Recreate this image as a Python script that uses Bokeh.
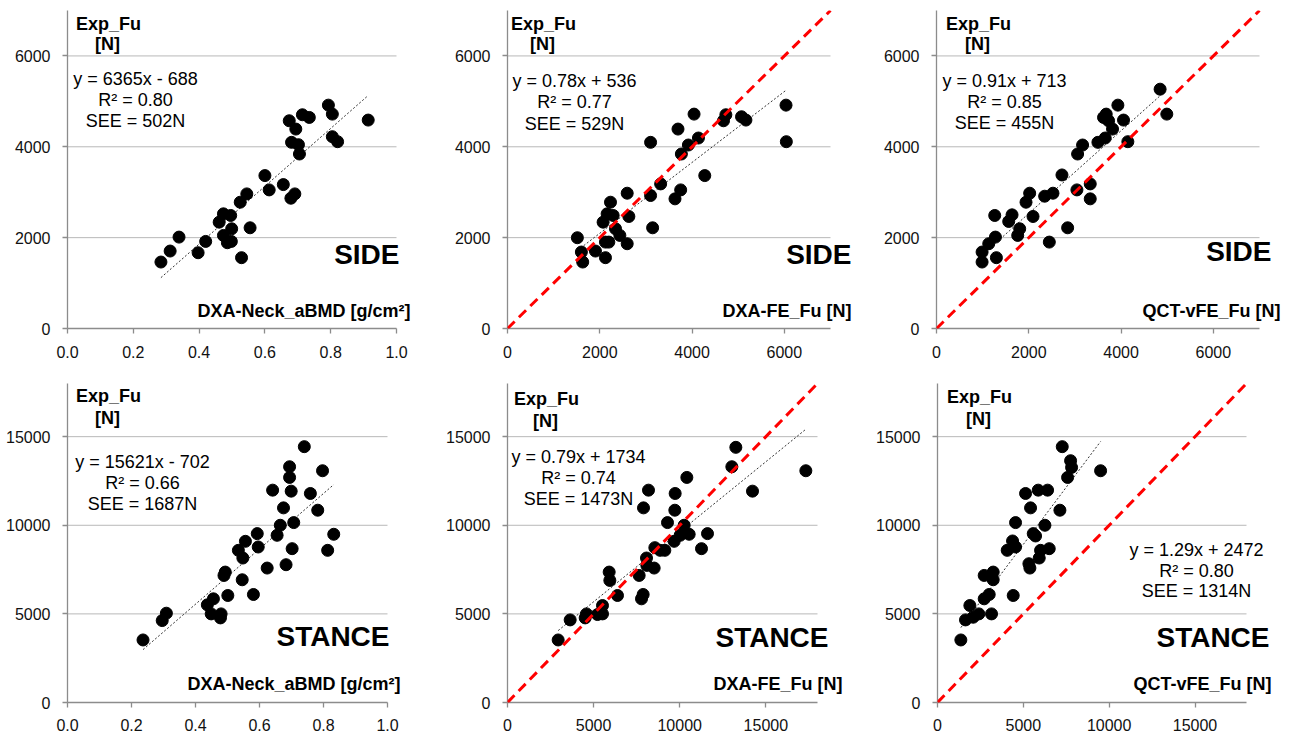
from bokeh.plotting import figure
from bokeh.models import Range1d, FixedTicker, NumeralTickFormatter, Label, Slope
from bokeh.layouts import column, row
from bokeh.embed import file_html
from bokeh.resources import INLINE

# ---------------- DATA ----------------
# SIDE configuration
side_bmd_x = [0.284, 0.312, 0.339, 0.397, 0.420, 0.461, 0.474, 0.496, 0.474, 0.486, 0.498,
              0.499, 0.525, 0.545, 0.555, 0.529, 0.600, 0.613, 0.656, 0.674, 0.681, 0.694,
              0.702, 0.705, 0.679, 0.691, 0.714, 0.735, 0.793, 0.805, 0.805, 0.821, 0.914]
side_bmd_y = [1463, 1705, 2012, 1668, 1917, 2341, 2524, 2488, 2049, 1888, 1917,
              2195, 2780, 2963, 2217, 1559, 3366, 3051, 3168, 4573, 4098, 4390,
              4046, 3841, 2868, 2963, 4705, 4646, 4917, 4719, 4222, 4112, 4588]

side_dxafe_x = [1514, 1601, 1630, 1906, 2072, 2123, 2123, 2196, 2159, 2232, 2290, 2341,
                2435, 2594, 2630, 2594, 3101, 3101, 3145, 3319, 3630, 3695, 3753, 3768,
                3920, 4043, 4138, 4275, 4681, 4732, 5072, 5167, 6036, 6043]
side_dxafe_y = [1998, 1683, 1463, 1705, 2341, 1902, 1559, 1902, 2524, 2780, 2488, 2195,
                2049, 2978, 2466, 1866, 4098, 2927, 2217, 3183, 2854, 4390, 3051, 3841,
                4039, 4719, 4193, 3366, 4573, 4705, 4661, 4588, 4917, 4112]

side_qct_x = [988, 988, 1132, 1262, 1277, 1298, 1565, 1637, 1760, 1803, 1940, 2019,
              2092, 2344, 2524, 2445, 2719, 2842, 3043, 3058, 3166, 3332, 3332, 3498,
              3656, 3620, 3678, 3729, 3815, 3931, 4053, 4147, 4846, 4991]
side_qct_y = [1463, 1683, 1866, 2488, 2012, 1559, 2356, 2502, 2049, 2195, 2780, 2978,
              2466, 2912, 2978, 1902, 3380, 2217, 3051, 3841, 4039, 3183, 2854, 4098,
              4193, 4646, 4719, 4573, 4390, 4917, 4588, 4112, 5268, 4719]

# STANCE configuration
stance_bmd_x = [0.236, 0.296, 0.309, 0.437, 0.449, 0.456, 0.478, 0.480, 0.489, 0.493,
                0.501, 0.534, 0.548, 0.556, 0.546, 0.581, 0.593, 0.596, 0.624, 0.641,
                0.655, 0.665, 0.675, 0.683, 0.694, 0.694, 0.699, 0.707, 0.702, 0.740,
                0.759, 0.782, 0.797, 0.813, 0.832]
stance_bmd_y = [3529, 4623, 5038, 5510, 5000, 5850, 4774, 5000, 7170, 7359,
                6038, 8586, 8152, 9095, 6925, 6095, 9529, 8775, 7586, 11982,
                9435, 10001, 10982, 7775, 13303, 12700, 11926, 10152, 8680, 14436,
                11794, 10850, 13077, 8586, 9492]

stance_dxafe_x = [2942, 3639, 4510, 4587, 5226, 5516, 5516, 5903, 5942, 6387, 7645, 7781,
                  7877, 7897, 8071, 8187, 8090, 8516, 8555, 8865, 9135, 9290, 9677, 9716,
                  9735, 10026, 10258, 10548, 10413, 11265, 11613, 13026, 13258, 14226, 17323]
stance_dxafe_y = [3529, 4661, 4774, 5000, 4963, 5472, 5000, 7359, 6888, 6038, 7170, 5850,
                  6095, 10982, 8152, 11982, 7737, 7586, 8737, 8586, 8586, 10152, 9095, 10850,
                  11794, 9435, 10001, 9492, 12700, 8680, 9529, 13303, 14398, 11926, 13077]

stance_qct_x = [1360, 1632, 1885, 2079, 2409, 2720, 2720, 3012, 3148, 3245, 3245, 4061,
                4372, 4411, 4547, 4547, 5130, 5421, 5324, 5382, 5577, 5712, 5868, 5926,
                6004, 6257, 6412, 6509, 7131, 7267, 7578, 7753, 7811, 9501]
stance_qct_y = [3529, 4661, 5472, 4812, 5000, 7170, 5850, 6095, 5000, 7359, 6925, 8586,
                9114, 6038, 8775, 10152, 11794, 10982, 7831, 7586, 9529, 9397, 11982, 8152,
                8586, 10001, 11982, 8680, 10850, 14436, 12700, 13643, 13265, 13077]

# regression coefficients (slope, intercept) as printed
fit_coefs = [(6365, -688), (0.78, 536), (0.91, 713),
             (15621, -702), (0.79, 1734), (1.29, 2472)]
eq_texts = [["y = 6365x - 688", "R\u00b2 = 0.80", "SEE = 502N"],
            ["y = 0.78x + 536", "R\u00b2 = 0.77", "SEE = 529N"],
            ["y = 0.91x + 713", "R\u00b2 = 0.85", "SEE = 455N"],
            ["y = 15621x - 702", "R\u00b2 = 0.66", "SEE = 1687N"],
            ["y = 0.79x + 1734", "R\u00b2 = 0.74", "SEE = 1473N"],
            ["y = 1.29x + 2472", "R\u00b2 = 0.80", "SEE = 1314N"]]
x_titles = ["DXA-Neck_aBMD [g/cm\u00b2]", "DXA-FE_Fu [N]", "QCT-vFE_Fu [N]",
            "DXA-Neck_aBMD [g/cm\u00b2]", "DXA-FE_Fu [N]", "QCT-vFE_Fu [N]"]
config_names = ["SIDE", "SIDE", "SIDE", "STANCE", "STANCE", "STANCE"]
y_title = ["Exp_Fu", "[N]"]

bmd_ticks = [0.0, 0.2, 0.4, 0.6, 0.8, 1.0]
side_ticks = [0, 2000, 4000, 6000]
stance_ticks = [0, 5000, 10000, 15000]

datasets = [(side_bmd_x, side_bmd_y), (side_dxafe_x, side_dxafe_y), (side_qct_x, side_qct_y),
            (stance_bmd_x, stance_bmd_y), (stance_dxafe_x, stance_dxafe_y), (stance_qct_x, stance_qct_y)]

# ---------------- LAYOUT / STYLE ----------------
FONT = "Liberation Sans"
# visible plot boxes (left, right, top, bottom) in page pixels
frames = [(67, 396, 10, 328), (507, 830, 10, 328), (936, 1259, 10, 328),
          (67, 387, 383, 702), (507, 817, 383, 702), (937, 1246, 383, 702)]
# the drawing frame is widened to the right so that texts can overhang the plot box
frame_right_ext = [413, 853, 1281, 402, 844, 1273]
# (left, right, top, bottom) borders
borders = [(67, 35, 10, 45), (59, 24, 10, 45), (59, 8, 10, 45),
           (67, 39, 10, 34), (66, 27, 10, 34), (66, 16, 10, 34)]
xvis = [(0, 1), (0, 7000), (0, 7000), (0, 1), (0, 18000), (0, 18000)]
yranges = [(0, 7000), (0, 7000), (0, 7000), (0, 18000), (0, 18000), (0, 18000)]
xticks = [bmd_ticks, side_ticks, side_ticks, bmd_ticks, stance_ticks, stance_ticks]
yticks = [side_ticks] * 3 + [stance_ticks] * 3
identity = [False, True, True, False, True, True]

# text positions (page pixels)
ylab_pos = [(108, 23, 43), (543, 23, 43), (978, 23, 43),
            (108, 395, 417), (546, 398, 420), (979, 396, 418)]
eq_pos = [(135, (78, 99, 120)), (574, (80, 101, 123)), (1004, (80, 101, 122)),
          (142, (461, 482, 503)), (578, (456, 477, 498)), (1196, (549, 570, 590))]
name_pos = [(399, 254), (851, 254), (1271, 251), (389, 636), (828, 637), (1269, 637)]
xt_pos = [(410, 310), (851, 310), (1280, 310), (400, 683), (842, 683), (1271, 683)]

AXIS_COLOR = "#8c8c8c"
GRID_COLOR = "#b8b8b8"


def add_text(p, i, px, py, text, size, bold=False, align="center"):
    fl, fr, ft, fb = frames[i]
    xr, yr = xvis[i], yranges[i]
    x = xr[0] + (px - fl) / (fr - fl) * (xr[1] - xr[0])
    y = yr[0] + (fb - py) / (fb - ft) * (yr[1] - yr[0])
    p.add_layout(Label(x=x, y=y, text=text, text_font=FONT, text_font_size=size,
                       text_font_style="bold" if bold else "normal",
                       text_align=align, text_baseline="middle", text_color="black"))


figs = []
for i in range(6):
    fl, fr, ft, fb = frames[i]
    fre = frame_right_ext[i]
    bl, br, bt, bb = borders[i]
    x_lo, x_hi = xvis[i]
    x_ext = x_lo + (x_hi - x_lo) * (fre - fl) / (fr - fl)
    p = figure(frame_width=fre - fl, frame_height=fb - ft,
               min_border_left=bl, min_border_right=br, min_border_top=bt, min_border_bottom=bb,
               x_range=Range1d(x_lo, x_ext), y_range=Range1d(*yranges[i]),
               output_backend="svg", toolbar_location=None)
    p.outline_line_color = None
    p.background_fill_color = "white"
    p.border_fill_color = "white"
    p.xgrid.visible = False
    p.ygrid.visible = False

    # horizontal gridlines limited to the visible plot box
    gy = [t for t in yticks[i] if t > 0]
    p.segment(x0=[x_lo] * len(gy), x1=[x_hi] * len(gy), y0=gy, y1=gy,
              line_color=GRID_COLOR, line_width=1)

    bottom_row = i >= 3
    for ax, tk in ((p.xaxis[0], xticks[i]), (p.yaxis[0], yticks[i])):
        ax.ticker = FixedTicker(ticks=tk)
        ax.axis_line_color = AXIS_COLOR
        ax.axis_line_width = 1.3
        ax.major_tick_line_color = AXIS_COLOR
        ax.major_tick_line_width = 1.3
        ax.major_tick_in = 0
        ax.major_tick_out = 5
        ax.minor_tick_line_color = None
        ax.major_label_text_font = FONT
        ax.major_label_text_font_size = "16px"
        ax.major_label_text_color = "#111111"
    p.xaxis[0].bounds = (x_lo, x_hi)
    p.xaxis[0].major_label_standoff = 11 if bottom_row else 12
    p.yaxis[0].major_label_standoff = 12
    if x_hi == 1:
        p.xaxis[0].formatter = NumeralTickFormatter(format="0.0")

    if identity[i]:
        p.add_layout(Slope(gradient=1, y_intercept=0, line_color="#ff0000",
                           line_width=3, line_dash="10 6"))

    xs, ys = datasets[i]
    m, b = fit_coefs[i]
    x0, x1 = min(xs), max(xs)
    p.line([x0, x1], [m * x0 + b, m * x1 + b], line_color="#333333",
           line_width=1, line_dash="2 2")
    p.scatter(xs, ys, size=12, marker="circle", fill_color="black", line_color="black")

    cx, y1, y2 = ylab_pos[i]
    add_text(p, i, cx, y1, y_title[0], "18px", bold=True)
    add_text(p, i, cx - 1, y2, y_title[1], "18px", bold=True)
    ex, eys = eq_pos[i]
    for t, ey in zip(eq_texts[i], eys):
        add_text(p, i, ex, ey, t, "18px")
    nx, ny = name_pos[i]
    add_text(p, i, nx, ny, config_names[i], "28px", bold=True, align="right")
    tx, ty = xt_pos[i]
    add_text(p, i, tx, ty, x_titles[i], "18px", bold=True, align="right")
    figs.append(p)

layout = column(row(*figs[:3]), row(*figs[3:]))
open("out.html", "w").write(file_html(layout, INLINE))
